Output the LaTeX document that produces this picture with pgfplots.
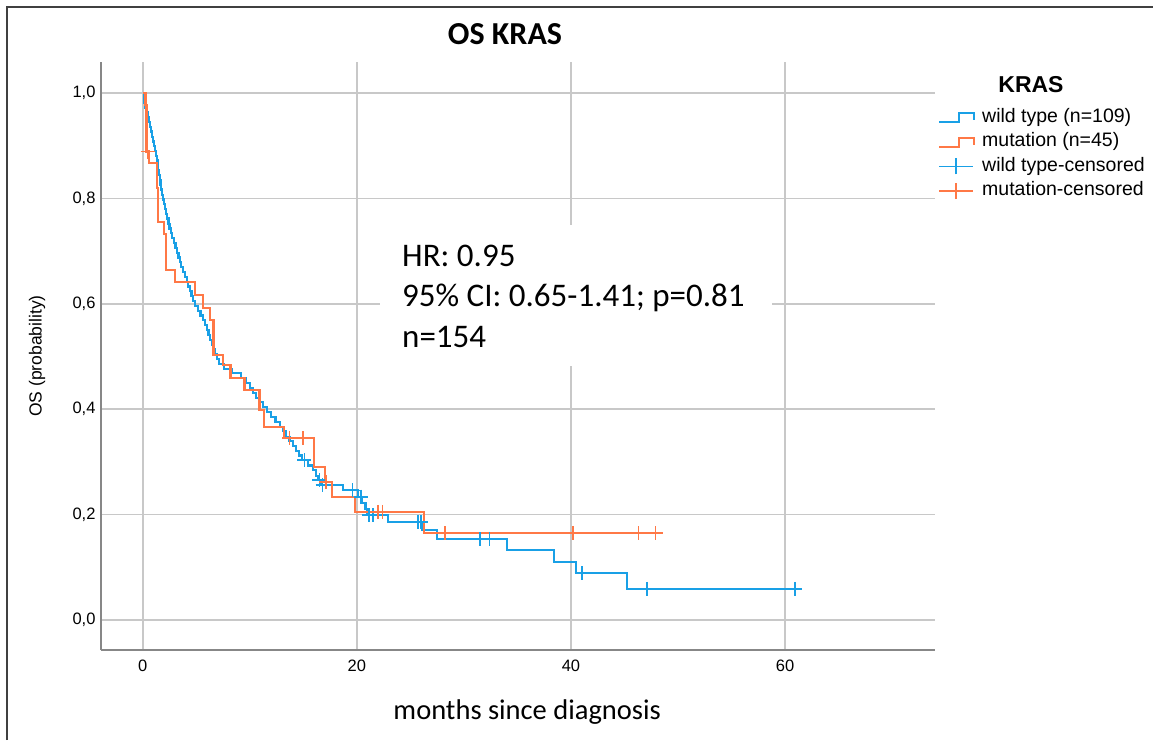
\documentclass[border=0pt]{standalone}
\usepackage{fontspec}
\setmainfont{Liberation Sans}
\newfontfamily\calib{Carlito}
\usepackage{pgfplots}
\pgfplotsset{compat=1.18}
\definecolor{wtblue}{RGB}{25,160,230}
\definecolor{mutorange}{RGB}{255,120,70}
\definecolor{gridgray}{RGB}{200,200,200}
\definecolor{axisgray}{RGB}{135,135,135}

\begin{document}
\begin{tikzpicture}[x=1pt,y=1pt]
\useasboundingbox (0,0) rectangle (1153,740);
\draw[line width=2pt, black!75] (7,0) -- (7,733) -- (1153,733);

\begin{axis}[
  at={(101pt,90pt)}, anchor=south west,
  scale only axis, width=834pt, height=588pt,
  xmin=-3.9, xmax=74, ymin=-0.057, ymax=1.059,
  axis x line=bottom, axis y line=left,
  axis line style={axisgray, line width=1.5pt, -},
  xtick={0,20,40,60}, ytick={0,0.2,0.4,0.6,0.8,1},
  major tick length=0pt,
  grid=major, major grid style={gridgray, line width=1.6pt},
  /pgf/number format/assume math mode=true,
  tick label style={font=\fontsize{16.5}{20}\selectfont},
  yticklabel style={xshift=-2pt, /pgf/number format/.cd, fixed, fixed zerofill, precision=1, use comma},
  xticklabel style={yshift=-6pt},
  ylabel={OS (probability)},
  ylabel style={at={(axis description cs:-0.0767,0.5)}, anchor=center, font=\fontsize{17.5}{21}\selectfont},
  xlabel={months since diagnosis},
  xlabel style={at={(axis description cs:0.511,-0.1054)}, anchor=center, font=\calib\fontsize{28.5}{34}\selectfont},
  title={OS KRAS},
  title style={at={(axis description cs:0.4844,1.0374)}, anchor=center, font=\calib\bfseries\fontsize{32}{38}\selectfont},
  legend style={at={(axis description cs:1.0036,0.921)}, anchor=north west, draw=none, fill=none,
    font=\fontsize{19.5}{23}\selectfont, inner sep=0pt, row sep=7pt, column sep=7pt,
    nodes={inner sep=0pt, text height=13.5pt, text depth=4pt}},
  legend cell align=left,
]

% wild type, Kaplan-Meier steps
\addplot[const plot, wtblue, line width=2.2pt,
  legend image code/.code={\draw[wtblue, line width=2pt] (0pt,-5pt) -- (20pt,-5pt) -- (20pt,4pt) -- (35pt,4pt) -- (35pt,-3pt);}]
coordinates {
(0,1) (0.08,0.991) (0.16,0.982) (0.25,0.972) (0.35,0.963) (0.45,0.954)
(0.56,0.945) (0.65,0.936) (0.74,0.927) (0.83,0.917) (0.92,0.908) (1.02,0.899)
(1.12,0.890) (1.21,0.881) (1.3,0.872) (1.37,0.862) (1.44,0.853) (1.51,0.844)
(1.58,0.835) (1.65,0.826) (1.72,0.817) (1.8,0.807) (1.87,0.798) (1.97,0.789)
(2.07,0.780) (2.18,0.771) (2.29,0.762) (2.4,0.752) (2.5,0.743) (2.61,0.734)
(2.75,0.725) (2.9,0.716) (3.05,0.706) (3.2,0.697) (3.33,0.688) (3.45,0.679)
(3.6,0.670) (3.78,0.661) (3.95,0.651) (4.1,0.642) (4.25,0.633) (4.4,0.624)
(4.55,0.615) (4.67,0.606) (4.9,0.596) (5.15,0.587) (5.4,0.578) (5.6,0.569)
(5.8,0.560) (5.98,0.550) (6.15,0.541) (6.3,0.532) (6.45,0.523) (6.6,0.514)
(6.75,0.505) (6.9,0.495) (7.1,0.486) (7.6,0.477) (8.3,0.468) (9.2,0.459)
(9.6,0.450) (10.0,0.440) (10.3,0.431) (10.6,0.422) (10.9,0.413) (11.2,0.404)
(11.6,0.394) (12.0,0.385) (12.4,0.376) (12.8,0.367) (13.1,0.358) (13.4,0.348)
(13.7,0.339) (14.0,0.330) (14.3,0.321) (14.6,0.312) (14.9,0.303) (15.4,0.293)
(15.9,0.284) (16.2,0.274) (16.4,0.265) (16.7,0.256) (18.7,0.246) (20.1,0.234)
(20.5,0.222) (20.8,0.210) (21.0,0.199) (22.9,0.186) (26.1,0.171) (27.5,0.154)
(34.0,0.133) (38.4,0.110) (40.5,0.089) (45.2,0.059) (60.9,0.059)
};
\addlegendentry{wild type (n=109)}

% mutation, Kaplan-Meier steps
\addplot[const plot, mutorange, line width=2.2pt,
  legend image code/.code={\draw[mutorange, line width=2pt] (0pt,-5pt) -- (20pt,-5pt) -- (20pt,4pt) -- (35pt,4pt) -- (35pt,-3pt);}]
coordinates {
(0,1) (0.25,0.978) (0.35,0.889) (0.55,0.867) (1.3,0.82) (1.4,0.756)
(1.95,0.733) (2.2,0.664) (3.0,0.641) (4.9,0.617) (5.6,0.592) (6.3,0.569)
(6.6,0.503) (7.5,0.484) (8.2,0.459) (9.5,0.436) (10.9,0.398) (11.3,0.366)
(13.2,0.345) (16.0,0.29) (17.0,0.262) (17.7,0.233) (19.8,0.205) (26.3,0.165)
(48.0,0.165)
};
\addlegendentry{mutation (n=45)}

% censored
\addplot[only marks, mark=+, mark size=7pt, wtblue, line width=1.7pt,
  legend image code/.code={\draw[wtblue, line width=1.7pt] (0pt,0pt) -- (34pt,0pt) (17pt,-8pt) -- (17pt,8pt);}]
coordinates {
(15.1,0.303) (16.5,0.265) (16.8,0.256) (19.6,0.246) (20.4,0.234) (21.1,0.199)
(21.5,0.199) (25.7,0.186) (26.0,0.186) (31.5,0.154) (32.4,0.154) (41.0,0.089)
(47.1,0.059) (60.9,0.059)
};
\addlegendentry{wild type-censored}

\addplot[only marks, mark=+, mark size=7pt, mutorange, line width=1.7pt,
  legend image code/.code={\draw[mutorange, line width=1.7pt] (0pt,0pt) -- (34pt,0pt) (17pt,-8pt) -- (17pt,8pt);}]
coordinates {
(0.45,0.889) (13.7,0.345) (15.0,0.345) (17.1,0.262) (22.0,0.205) (22.4,0.205)
(28.2,0.165) (40.2,0.165) (46.3,0.165) (47.9,0.165)
};
\addlegendentry{mutation-censored}
\end{axis}

\fill[white] (380,374) rectangle (772,515);
\node[anchor=base west, inner sep=0pt, font=\calib\fontsize{33}{40}\selectfont] at (402,473) {HR: 0.95};
\node[anchor=base west, inner sep=0pt, font=\calib\fontsize{33}{40}\selectfont] at (402,433) {95\% CI: 0.65-1.41; p=0.81};
\node[anchor=base west, inner sep=0pt, font=\calib\fontsize{33}{40}\selectfont] at (402,393) {n=154};
\node[anchor=center, inner sep=0pt, font=\bfseries\fontsize{23}{27}\selectfont] at (1031,655) {KRAS};
\end{tikzpicture}
\end{document}
